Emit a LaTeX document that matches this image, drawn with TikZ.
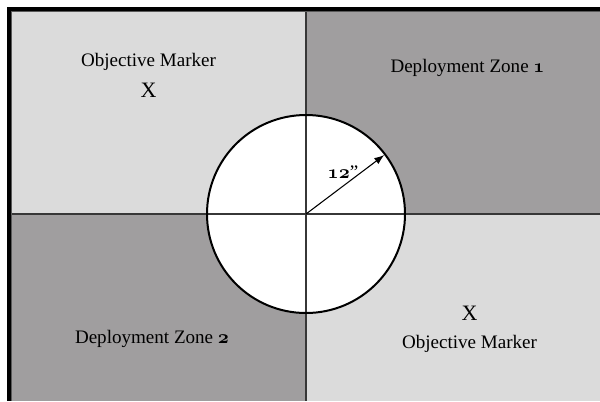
\documentclass[tikz,border=0pt]{standalone}
\usepackage{fontspec}
\setmainfont{Liberation Serif}
\usepackage{tikz}
\usetikzlibrary{arrows.meta}
\definecolor{zonegray}{RGB}{160,158,159}
\definecolor{markergray}{RGB}{219,219,219}
\definecolor{splitgray}{RGB}{55,55,55}
\newcommand\zonenum[1]{{\fontencoding{OML}\fontfamily{cmm}\fontseries{b}\fontshape{it}\selectfont #1}}

\begin{document}
\begin{tikzpicture}[x=0.75pt,y=-0.75pt,
    board text/.style={font=\fontsize{14.3}{16}\selectfont, inner sep=0pt, anchor=base},
    cross text/.style={board text, font=\fontsize{16.5}{18}\selectfont},
    split line/.style={splitgray, line width=0.8pt}]
        \useasboundingbox (0,0) rectangle (600,401);
        % frame and quarters
        \fill[black] (7,7) rectangle (600,401);
        \fill[black!65] (11,11) rectangle (600,401);
        \fill[markergray] (12,12) rectangle (306,214);
        \fill[zonegray] (306,12) rectangle (600,214);
        \fill[zonegray] (12,214) rectangle (306,401);
        \fill[markergray] (306,214) rectangle (600,401);
        \coordinate (centre) at (306,214);
        \fill[white] (centre) circle (74.25pt);
        \draw[split line] (12,214) -- (600,214);
        \draw[split line] (306,12) -- (306,401);
        \draw[line width=1.5pt] (centre) circle (74.25pt);
        % radius arrow
        \path (centre) ++(37:73.5pt) coordinate (rim);
        \draw[-{Latex[length=7.5pt,width=5.5pt]}, line width=0.8pt] (centre) -- (rim);
        \node[board text] (radius) at (343,178) {\zonenum{12}''};
        % labels
        \node[board text] (marker1) at (148.5,66) {Objective Marker};
        \node[cross text] (cross1) at (148.5,97) {X};
        \node[board text] (zone1) at (467.5,72) {Deployment Zone \zonenum{1}};
        \node[board text] (zone2) at (152,343) {Deployment Zone \zonenum{2}};
        \node[cross text] (cross2) at (469.5,320) {X};
        \node[board text] (marker2) at (469.5,348) {Objective Marker};
    \end{tikzpicture}
\end{document}
